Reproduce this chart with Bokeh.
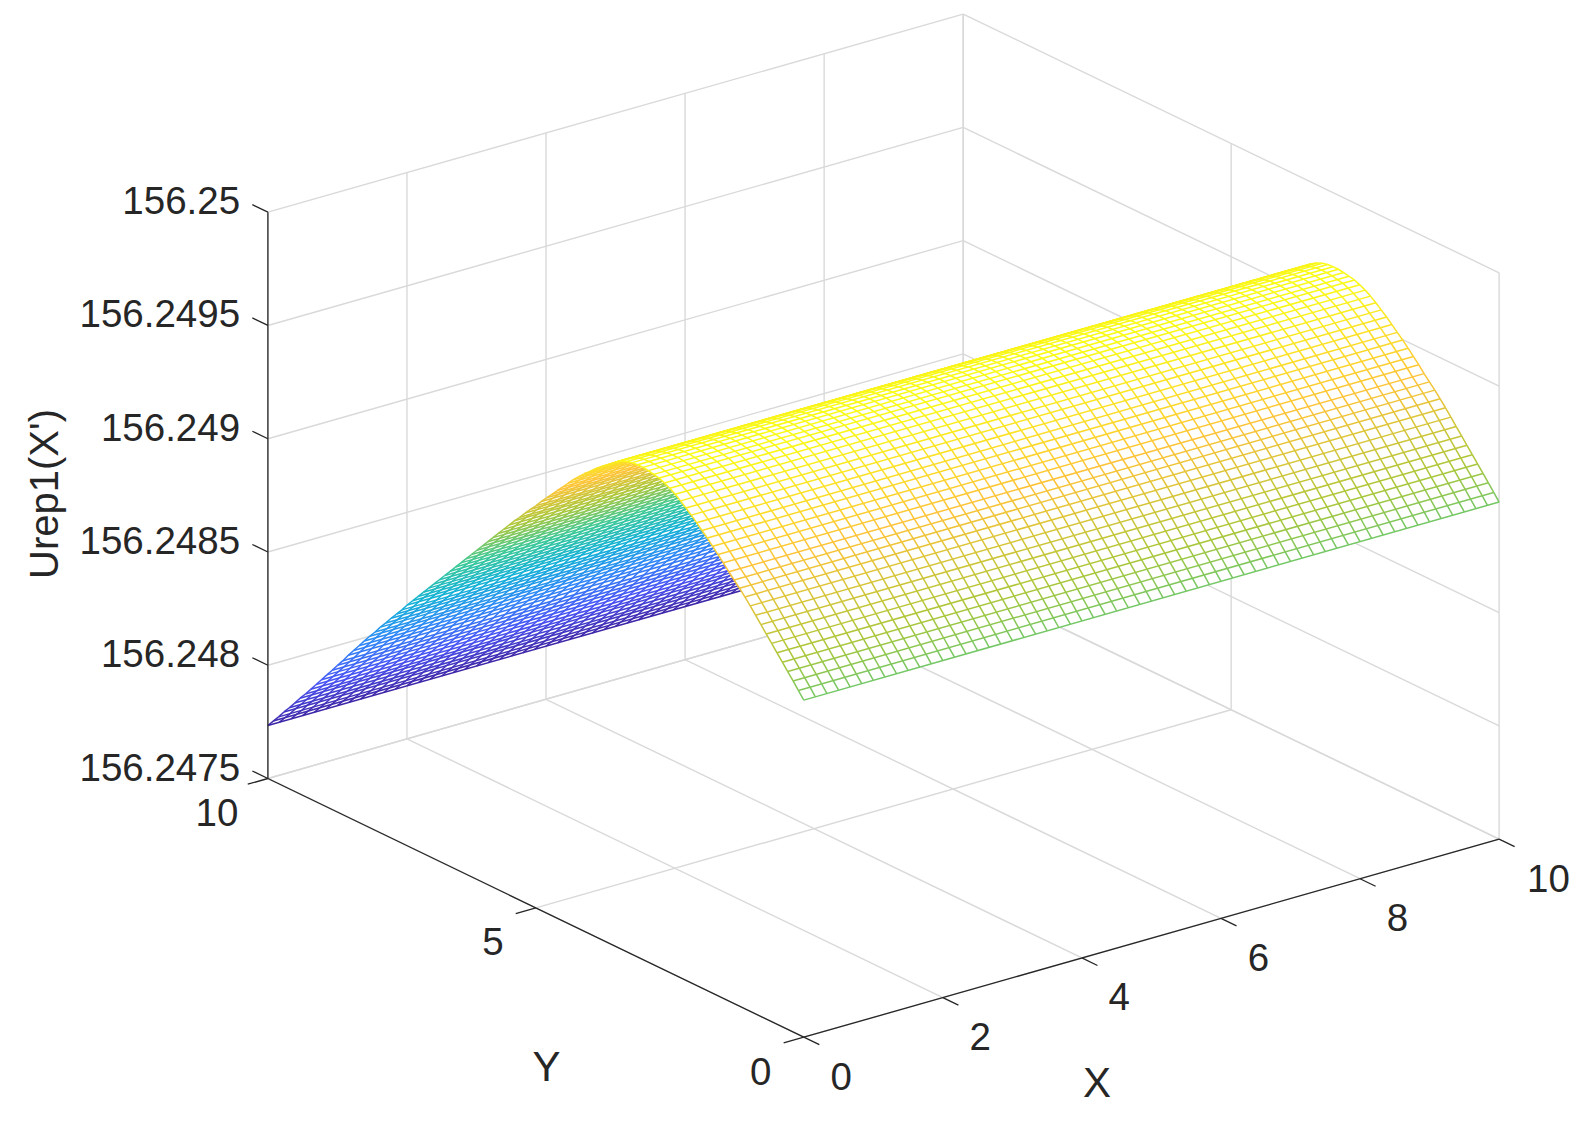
import numpy as np
from bokeh.plotting import figure
from bokeh.models import Range1d, ColumnDataSource
from bokeh.core.properties import value
from bokeh.embed import file_html
from bokeh.resources import INLINE

# ---- data -----------------------------------------------------------------
x_ticks = [0, 2, 4, 6, 8, 10]
y_ticks = [0, 5, 10]
z_ticks = [156.2475, 156.248, 156.2485, 156.249, 156.2495, 156.25]
z_tick_labels = ["156.2475", "156.248", "156.2485", "156.249", "156.2495", "156.25"]
x_tick_labels = ["0", "2", "4", "6", "8", "10"]
y_tick_labels = ["0", "5", "10"]
x_title = "X"
y_title = "Y"
z_title = "Urep1(X')"

# height of the surface along Y (0, 0.1, ... 10); it does not change along X
surface_z = [
    156.248988, 156.249019, 156.249050, 156.249080, 156.249110, 156.249140, 156.249170, 156.249200, 156.249230, 156.249260,
    156.249290, 156.249318, 156.249345, 156.249370, 156.249395, 156.249423, 156.249448, 156.249473, 156.249498, 156.249520,
    156.249543, 156.249565, 156.249585, 156.249605, 156.249623, 156.249638, 156.249650, 156.249660, 156.249665, 156.249670,
    156.249673, 156.249673, 156.249671, 156.249665, 156.249655, 156.249640, 156.249621, 156.249603, 156.249583, 156.249563,
    156.249540, 156.249519, 156.249495, 156.249470, 156.249443, 156.249415, 156.249388, 156.249360, 156.249333, 156.249305,
    156.249275, 156.249248, 156.249220, 156.249190, 156.249163, 156.249133, 156.249103, 156.249073, 156.249043, 156.249013,
    156.248983, 156.248953, 156.248923, 156.248893, 156.248863, 156.248833, 156.248803, 156.248773, 156.248743, 156.248713,
    156.248683, 156.248653, 156.248623, 156.248593, 156.248563, 156.248530, 156.248500, 156.248470, 156.248438, 156.248408,
    156.248375, 156.248345, 156.248313, 156.248280, 156.248248, 156.248215, 156.248180, 156.248148, 156.248115, 156.248083,
    156.248050, 156.248018, 156.247985, 156.247953, 156.247923, 156.247890, 156.247858, 156.247828, 156.247795, 156.247765,
    156.247734,
]
x_mesh_cells = 60
parula = np.array([
    [0.2422, 0.1504, 0.6603], [0.2810, 0.3228, 0.9578], [0.1786, 0.5289, 0.9682], [0.0689, 0.6948, 0.8394],
    [0.2161, 0.7843, 0.5923], [0.6720, 0.7793, 0.2227], [0.9970, 0.7659, 0.2199], [0.9769, 0.9839, 0.0805],
])

# ---- orthographic view ----------------------------------------------------
ORIGIN = np.array([803.3, 1036.7])     # x=0, y=0, z=min, in picture pixels
X_END = np.array([1498.6, 838.6])      # x=10
Y_END = np.array([267.4, 778.0])       # y=10
Z_SPAN = 566.3
X0, X1, Y0, Y1 = 0.0, 10.0, 0.0, 10.0
Z0, Z1 = z_ticks[0], z_ticks[-1]
TICK = 0.029


def proj(x, y, z):
    x, y, z = np.asarray(x, float), np.asarray(y, float), np.asarray(z, float)
    px = ORIGIN[0] + x / X1 * (X_END[0] - ORIGIN[0]) + y / Y1 * (Y_END[0] - ORIGIN[0])
    py = ORIGIN[1] + x / X1 * (X_END[1] - ORIGIN[1]) + y / Y1 * (Y_END[1] - ORIGIN[1]) - (z - Z0) / (Z1 - Z0) * Z_SPAN
    return px, py


def colour(z, lo, hi):
    t = np.clip((float(z) - lo) / (hi - lo), 0, 1)
    pos = np.linspace(0, 1, len(parula))
    rgb = [int(round(np.interp(t, pos, parula[:, c]) * 255)) for c in range(3)]
    return "#%02x%02x%02x" % tuple(rgb)


p = figure(width=1576, height=1121, output_backend="svg", toolbar_location=None,
           x_range=Range1d(0, 1576), y_range=Range1d(1121, 0),
           x_axis_type=None, y_axis_type=None, min_border=0, outline_line_color=None,
           background_fill_color="white", border_fill_color="white")
p.grid.visible = False

# ---- walls and floor ------------------------------------------------------
gx, gy = [], []


def seg(a, b, store_x, store_y):
    pa, pb = proj(*a), proj(*b)
    store_x.append([float(pa[0]), float(pb[0])])
    store_y.append([float(pa[1]), float(pb[1])])


for z in z_ticks:
    seg((X0, Y1, z), (X1, Y1, z), gx, gy)
    seg((X1, Y1, z), (X1, Y0, z), gx, gy)
for x in x_ticks:
    seg((x, Y1, Z0), (x, Y1, Z1), gx, gy)
    seg((x, Y0, Z0), (x, Y1, Z0), gx, gy)
for y in y_ticks:
    seg((X1, y, Z0), (X1, y, Z1), gx, gy)
    seg((X0, y, Z0), (X1, y, Z0), gx, gy)
p.multi_line(gx, gy, line_color="#d9d9d9", line_width=1.4)

# ---- mesh: back sheet first, then a white face and the front sheet --------
y_mesh = np.linspace(Y0, Y1, len(surface_z))
x_mesh = np.linspace(X0, X1, x_mesh_cells + 1)
Z = np.array(surface_z)
lo, hi = Z.min(), Z.max()

ax, ay = proj(X0, y_mesh, Z)
vx, vy = X_END[0] - ORIGIN[0], X_END[1] - ORIGIN[1]
cross = vx * np.diff(ay) - vy * np.diff(ax)
fold = int(np.argmax(cross > 0))


def draw_sheet(j0, j1):
    rows = np.arange(j0, j1 + 1)
    px0, py0 = proj(X0, y_mesh[rows], Z[rows])
    px1, py1 = proj(X1, y_mesh[rows], Z[rows])
    p.patch(np.r_[px0, px1[::-1]], np.r_[py0, py1[::-1]], fill_color="white", line_color=None)
    xs, ys, cs = [], [], []
    for j in rows[:-1]:
        c = colour(0.5 * (Z[j] + Z[j + 1]), lo, hi)
        for x in x_mesh:
            a = proj(x, y_mesh[j:j + 2], Z[j:j + 2])
            xs.append(a[0].tolist()); ys.append(a[1].tolist()); cs.append(c)
    for j in rows:
        a = proj(x_mesh[[0, -1]], y_mesh[j], Z[j])
        xs.append(a[0].tolist()); ys.append(a[1].tolist())
        cs.append(colour(Z[j], lo, hi))
    p.multi_line(xs="xs", ys="ys", line_color="c", line_width=1.5,
                 source=ColumnDataSource(dict(xs=xs, ys=ys, c=cs)))


draw_sheet(fold, len(Z) - 1)
draw_sheet(0, fold)

# ---- black axes and ticks -------------------------------------------------
INK = "#262626"
ax_x, ax_y = [], []
seg((X0, Y0, Z0), (X1, Y0, Z0), ax_x, ax_y)
seg((X0, Y0, Z0), (X0, Y1, Z0), ax_x, ax_y)
seg((X0, Y1, Z0), (X0, Y1, Z1), ax_x, ax_y)
for x in x_ticks:
    seg((x, Y0, Z0), (x, Y0 - TICK * Y1, Z0), ax_x, ax_y)
for y in y_ticks:
    seg((X0, y, Z0), (X0 - TICK * X1, y, Z0), ax_x, ax_y)
for z in z_ticks:
    seg((X0, Y1, z), (X0, Y1 + TICK * Y1, z), ax_x, ax_y)
p.multi_line(ax_x, ax_y, line_color=INK, line_width=1.3)

# ---- texts ----------------------------------------------------------------
FONT = value("Liberation Sans")


def label(xs, ys, texts, size, align="center", angle=0.0):
    p.text(list(xs), list(ys), text=list(texts), text_font=FONT, text_font_size=value(size),
           text_color=INK, text_align=align, text_baseline="middle", angle=angle)


zpx, zpy = proj(X0, Y1, np.array(z_ticks))
label(np.broadcast_to(zpx, zpy.shape) - 27.8, zpy - 11.5, z_tick_labels, "38.5px", "right")
xpx, xpy = proj(np.array(x_ticks), Y0, Z0)
label(xpx + 37.4 + np.array([0, 0, 0, 0, 0, 12]), xpy + 39, x_tick_labels, "38.5px")
ypx, ypy = proj(X0, np.array(y_ticks), Z0)
label(ypx - 43 - np.array([0, 0, 8]), ypy + 34, y_tick_labels, "38.5px")
label([1096.5], [1082], [x_title], "42px")
label([546], [1066], [y_title], "42px")
label([43.7], [493.5], [z_title], "40px", angle=np.pi / 2)

open("out.html", "w").write(file_html(p, INLINE))
